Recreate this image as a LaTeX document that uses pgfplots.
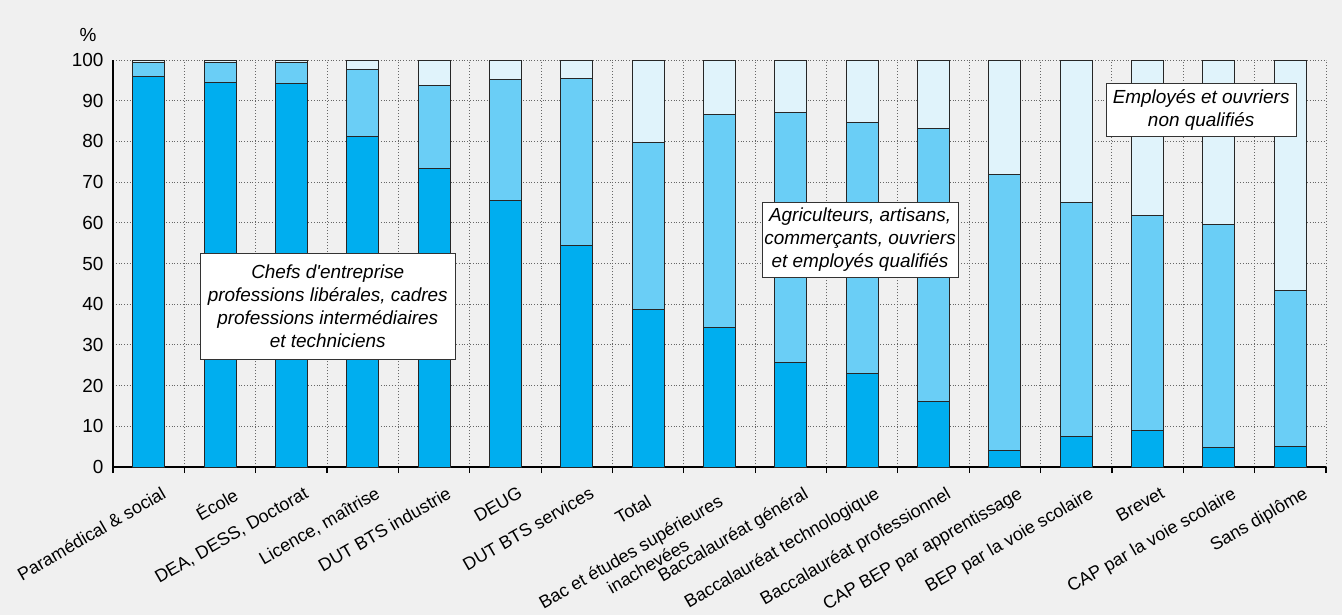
\documentclass[border=0pt]{standalone}
\usepackage{pgfplots}
\usepackage{pgfplotstable}
\pgfplotsset{compat=1.18}
\usepackage{fontspec}
\setmainfont{Liberation Sans}
\definecolor{c1}{HTML}{00AEEF}
\definecolor{c2}{HTML}{6ACEF6}
\definecolor{c3}{HTML}{E0F3FB}
\definecolor{bg}{HTML}{F0F0F0}
\pgfplotstableread{
x a b c
0 96.0 3.3 0.7
1 94.5 4.9 0.6
2 94.2 5.1 0.7
3 81.2 16.5 2.3
4 73.4 20.4 6.2
5 65.5 29.8 4.7
6 54.4 41.0 4.6
7 38.6 41.1 20.3
8 34.3 52.4 13.3
9 25.7 61.5 12.8
10 23.0 61.6 15.4
11 16.2 67.0 16.8
12 4.0 67.9 28.1
13 7.4 57.6 35.0
14 9.0 52.7 38.3
15 4.8 54.9 40.3
16 5.1 38.3 56.6
}\data
\begin{document}
\begin{tikzpicture}
\path[use as bounding box, fill=bg] (-56.5bp,-74bp) rectangle (614.5bp,233.5bp);
\begin{axis}[
  at={(0,0)}, anchor=south west,
  scale only axis, width=606.5bp, height=203.5bp,
  xmin=-0.5, xmax=16.5, ymin=0, ymax=100,
  ybar stacked, bar width=16bp,
  axis x line*=bottom, axis y line*=left,
  axis line style={-, line width=0.6bp, black},
  xtick={0,...,16},
  xticklabels={Paramédical \& social, École, {DEA, DESS, Doctorat}, {Licence, maîtrise}, DUT BTS industrie, DEUG, DUT BTS services, Total\hspace*{8bp}, {Bac et études supérieures\hspace*{8bp}\\inachevées}, Baccalauréat général, Baccalauréat technologique, Baccalauréat professionnel, CAP BEP par apprentissage, BEP par la voie scolaire, Brevet, CAP par la voie scolaire, Sans diplôme},
  minor xtick={-0.5,0.5,1.5,2.5,3.5,4.5,5.5,6.5,7.5,8.5,9.5,10.5,11.5,12.5,13.5,14.5,15.5,16.5},
  major x tick style={draw=none},
  minor x tick style={line width=0.6bp, black},
  minor tick length=3bp,
  tick align=outside,
  xminorgrids=true, ymajorgrids=true, xmajorgrids=false,
  grid style={densely dotted, line width=0.5bp, black!60},
  minor grid style={densely dotted, line width=0.5bp, black!60},
  ytick={0,10,...,100},
  y tick style={draw=none},
  /pgf/number format/assume math mode=true,
  yticklabel style={font=\fontsize{9.5}{11}\selectfont, xshift=3bp},
  xticklabel style={rotate=30, anchor=north east, align=center, font=\fontsize{9}{10.5}\selectfont, xshift=6bp, yshift=-4bp},
]
\addplot[fill=c1, draw=black!85, line width=0.5bp] table[x=x,y=a]{\data};
\addplot[fill=c2, draw=black!85, line width=0.5bp] table[x=x,y=b]{\data};
\addplot[fill=c3, draw=black!85, line width=0.5bp] table[x=x,y=c]{\data};
\coordinate (B1) at (axis cs:2.51,39.5);
\coordinate (B2) at (axis cs:9.97,55.8);
\coordinate (B3) at (axis cs:14.75,87.7);
\coordinate (TL) at (rel axis cs:0,1);
\end{axis}
\node[draw=black!80, line width=0.5bp, fill=white, font=\itshape\fontsize{9.5}{11.5}\selectfont, align=center, minimum width=127.5bp, minimum height=53bp, inner sep=1bp] at (B1) {Chefs d\textquotesingle entreprise\\professions libérales, cadres\\professions intermédiaires\\et techniciens};
\node[draw=black!80, line width=0.5bp, fill=white, font=\itshape\fontsize{9.5}{11.5}\selectfont, align=center, minimum width=98bp, minimum height=37.5bp, inner sep=1bp] at (B2) {Agriculteurs, artisans,\\commerçants, ouvriers\\et employés qualifiés};
\node[draw=black!80, line width=0.5bp, fill=white, font=\itshape\fontsize{9.5}{11.5}\selectfont, align=center, minimum width=95bp, minimum height=26.5bp, inner sep=1bp] at (B3) {Employés et ouvriers\\non qualifiés};
\node[font=\fontsize{9.5}{11}\selectfont] at ([xshift=-12.5bp, yshift=12.5bp]TL) {\%};
\end{tikzpicture}
\end{document}
